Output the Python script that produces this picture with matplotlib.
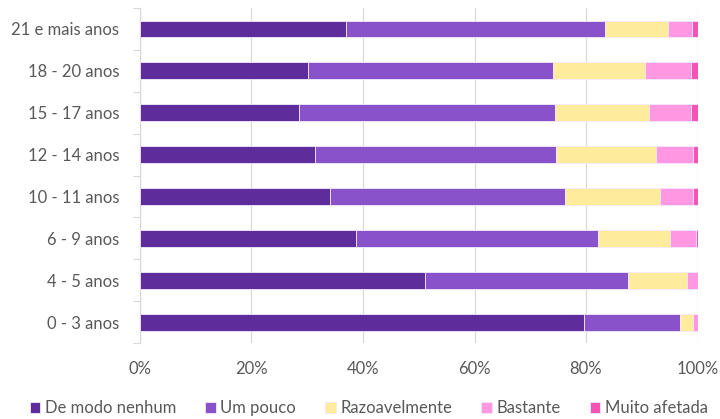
import matplotlib
matplotlib.use("Agg")
import matplotlib.pyplot as plt
import numpy as np
from matplotlib.ticker import PercentFormatter

categories = ["0 - 3 anos", "4 - 5 anos", "6 - 9 anos", "10 - 11 anos",
              "12 - 14 anos", "15 - 17 anos", "18 - 20 anos", "21 e mais anos"]
series_names = ["De modo nenhum", "Um pouco", "Razoavelmente", "Bastante", "Muito afetada"]
de_modo_nenhum = [79.7, 51.2, 38.8, 34.0, 31.4, 28.5, 30.1, 36.9]
um_pouco       = [17.1, 36.3, 43.4, 42.2, 43.3, 45.9, 44.0, 46.5]
razoavelmente  = [2.4, 10.6, 12.9, 17.0, 17.9, 16.9, 16.5, 11.3]
bastante       = [0.8, 1.9, 4.6, 6.0, 6.6, 7.5, 8.2, 4.3]
muito_afetada  = [0.0, 0.0, 0.3, 0.8, 0.8, 1.2, 1.2, 1.0]
colors = ["#5F2D9B", "#8A52CA", "#FFEB9C", "#FF97E2", "#F553B6"]
xticks = [0, 20, 40, 60, 80, 100]

plt.rcParams['font.family'] = ['Lato', 'DejaVu Sans']
fig = plt.figure(figsize=(7.2, 4.19), dpi=100)
ax = fig.add_axes([0.1944, 0.181, 0.7744, 0.800])

y = np.arange(len(categories))
left = np.zeros(len(categories))
for name, vals, c in zip(series_names,
                         [de_modo_nenhum, um_pouco, razoavelmente, bastante, muito_afetada],
                         colors):
    v = np.array(vals)
    ax.barh(y, v, left=left, height=0.4, color=c, label=name,
            edgecolor="#F3E9FB", linewidth=0.6, zorder=3)
    left += v

ax.set_ylim(-0.5, len(categories) - 0.5)
ax.set_xlim(0, 100)
ax.set_xticks(xticks)
ax.xaxis.set_major_formatter(PercentFormatter(decimals=0))
ax.set_yticks(y)
ax.set_yticklabels(categories)
ax.set_yticks(np.arange(-0.5, len(categories), 1), minor=True)
ax.tick_params(axis='y', which='major', length=0, pad=15, labelsize=12, labelcolor="#595959")
ax.tick_params(axis='y', which='minor', length=5, color="#D9D9D9", width=0.8)
ax.tick_params(axis='x', length=0, pad=13, labelsize=12, labelcolor="#595959")
ax.grid(axis='x', color="#D9D9D9", linewidth=0.9, zorder=0)
for s in ["top", "right", "bottom"]:
    ax.spines[s].set_visible(False)
ax.spines["left"].set_color("#D9D9D9")
ax.spines["left"].set_linewidth(0.9)

ax.legend(loc="upper center", bbox_to_anchor=(0.41, -0.15), ncol=5, frameon=False,
          fontsize=12, handlelength=0.65, handleheight=0.65, handletextpad=0.25,
          columnspacing=1.75, labelcolor="#595959", borderaxespad=0)

fig.savefig("out.png", dpi=100)
